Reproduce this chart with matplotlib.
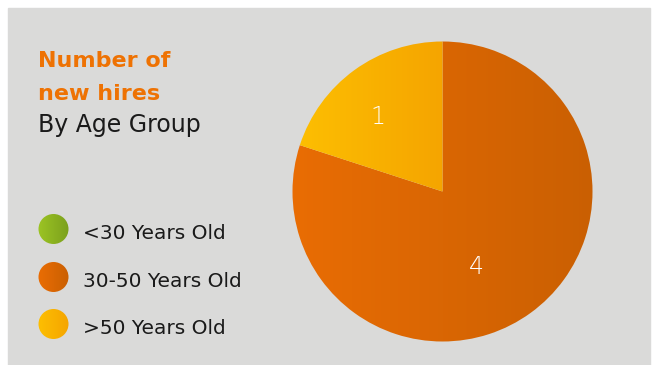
#!/usr/bin/env python3

"""
<file>    plot.py
<brief>   pie of new hires by age group
"""

import numpy as np
import matplotlib.pyplot as plt
from matplotlib.colors import LinearSegmentedColormap

# data
groups = ["<30 Years Old", "30-50 Years Old", ">50 Years Old"]
hires = [0, 4, 1]

# (left, right) colours of each horizontal gradient
grad_colors = [("#9cc424", "#7a9f1c"), ("#ea6d04", "#c95f02"), ("#fdbf02", "#f5a400")]

W, H = 653, 365
BG = "#dadad9"
ORANGE = "#ee7203"
FONT = "DejaVu Sans"
LIM = 1.1  # leave room round the unit circle so nothing gets clipped


def gradient_fill(ax, patch, colors):
    # paint a left->right gradient clipped to the patch
    ext = patch.get_path().get_extents(patch.get_patch_transform())
    pad = 0.03 * max(ext.width, ext.height)
    cmap = LinearSegmentedColormap.from_list("g", colors)
    img = ax.imshow(np.linspace(0, 1, 256).reshape(1, -1), cmap=cmap, aspect="auto",
                    extent=[ext.x0 - pad, ext.x1 + pad, ext.y0 - pad, ext.y1 + pad],
                    origin="lower", interpolation="bilinear", zorder=patch.get_zorder())
    img.set_clip_path(patch)


def px_axes(fig, cx, cy, r):
    # square axes where the unit circle has radius r px and sits at (cx, cy),
    # y measured from the top
    s = r * LIM
    a = fig.add_axes([(cx - s) / W, (H - cy - s) / H, 2 * s / W, 2 * s / H])
    a.axis("off")
    return a


def fix_lims(a):
    a.set_xlim(-LIM, LIM)
    a.set_ylim(-LIM, LIM)


fig = plt.figure(figsize=(W / 100, H / 100), dpi=100)
fig.patch.set_facecolor("white")

# background / text layer in pixel coordinates
bg = fig.add_axes([0, 0, 1, 1])
bg.set_xlim(0, W)
bg.set_ylim(H, 0)
bg.axis("off")
bg.add_patch(plt.Rectangle((8, 8), W - 11, H, color=BG, zorder=0))

bg.text(38, 67, "Number of", color=ORANGE, fontsize=16, fontweight="bold", family=FONT)
bg.text(38, 100, "new hires", color=ORANGE, fontsize=16, fontweight="bold", family=FONT)
bg.text(38, 132, "By Age Group", color="#1a1a1a", fontsize=17, family=FONT)

# legend
leg_y = [229, 277, 324]
for name, cols, y in zip(groups, grad_colors, leg_y):
    la = px_axes(fig, 53.5, y, 15)
    dot = plt.Circle((0, 0), 1, color="none")
    la.add_patch(dot)
    gradient_fill(la, dot, cols)
    fix_lims(la)
    bg.text(83, y + 10, name, color="#1a1a1a", fontsize=14.5, family=FONT)

# pie: centre (442.5, 191.5), radius 150 px
ax = px_axes(fig, 442.5, 191.5, 150)
wedges, _ = ax.pie(hires, startangle=90, counterclock=False,
                   wedgeprops=dict(linewidth=0, facecolor="none"))
lab_dist = {1: 0.66, 4: 0.55}
lab_turn = {1: 5, 4: -12}
for w, cols, v in zip(wedges, grad_colors, hires):
    if v == 0:
        continue
    gradient_fill(ax, w, cols)
    mid = np.deg2rad((w.theta1 + w.theta2) / 2 + lab_turn[v])
    d = lab_dist[v]
    ax.text(d * np.cos(mid), d * np.sin(mid), str(v), color="white", fontsize=17,
            fontweight="light", family=FONT, ha="center", va="center", zorder=5)
fix_lims(ax)
ax.set_aspect("equal")

plt.savefig("out.png", dpi=100, facecolor=fig.get_facecolor())
plt.close()
